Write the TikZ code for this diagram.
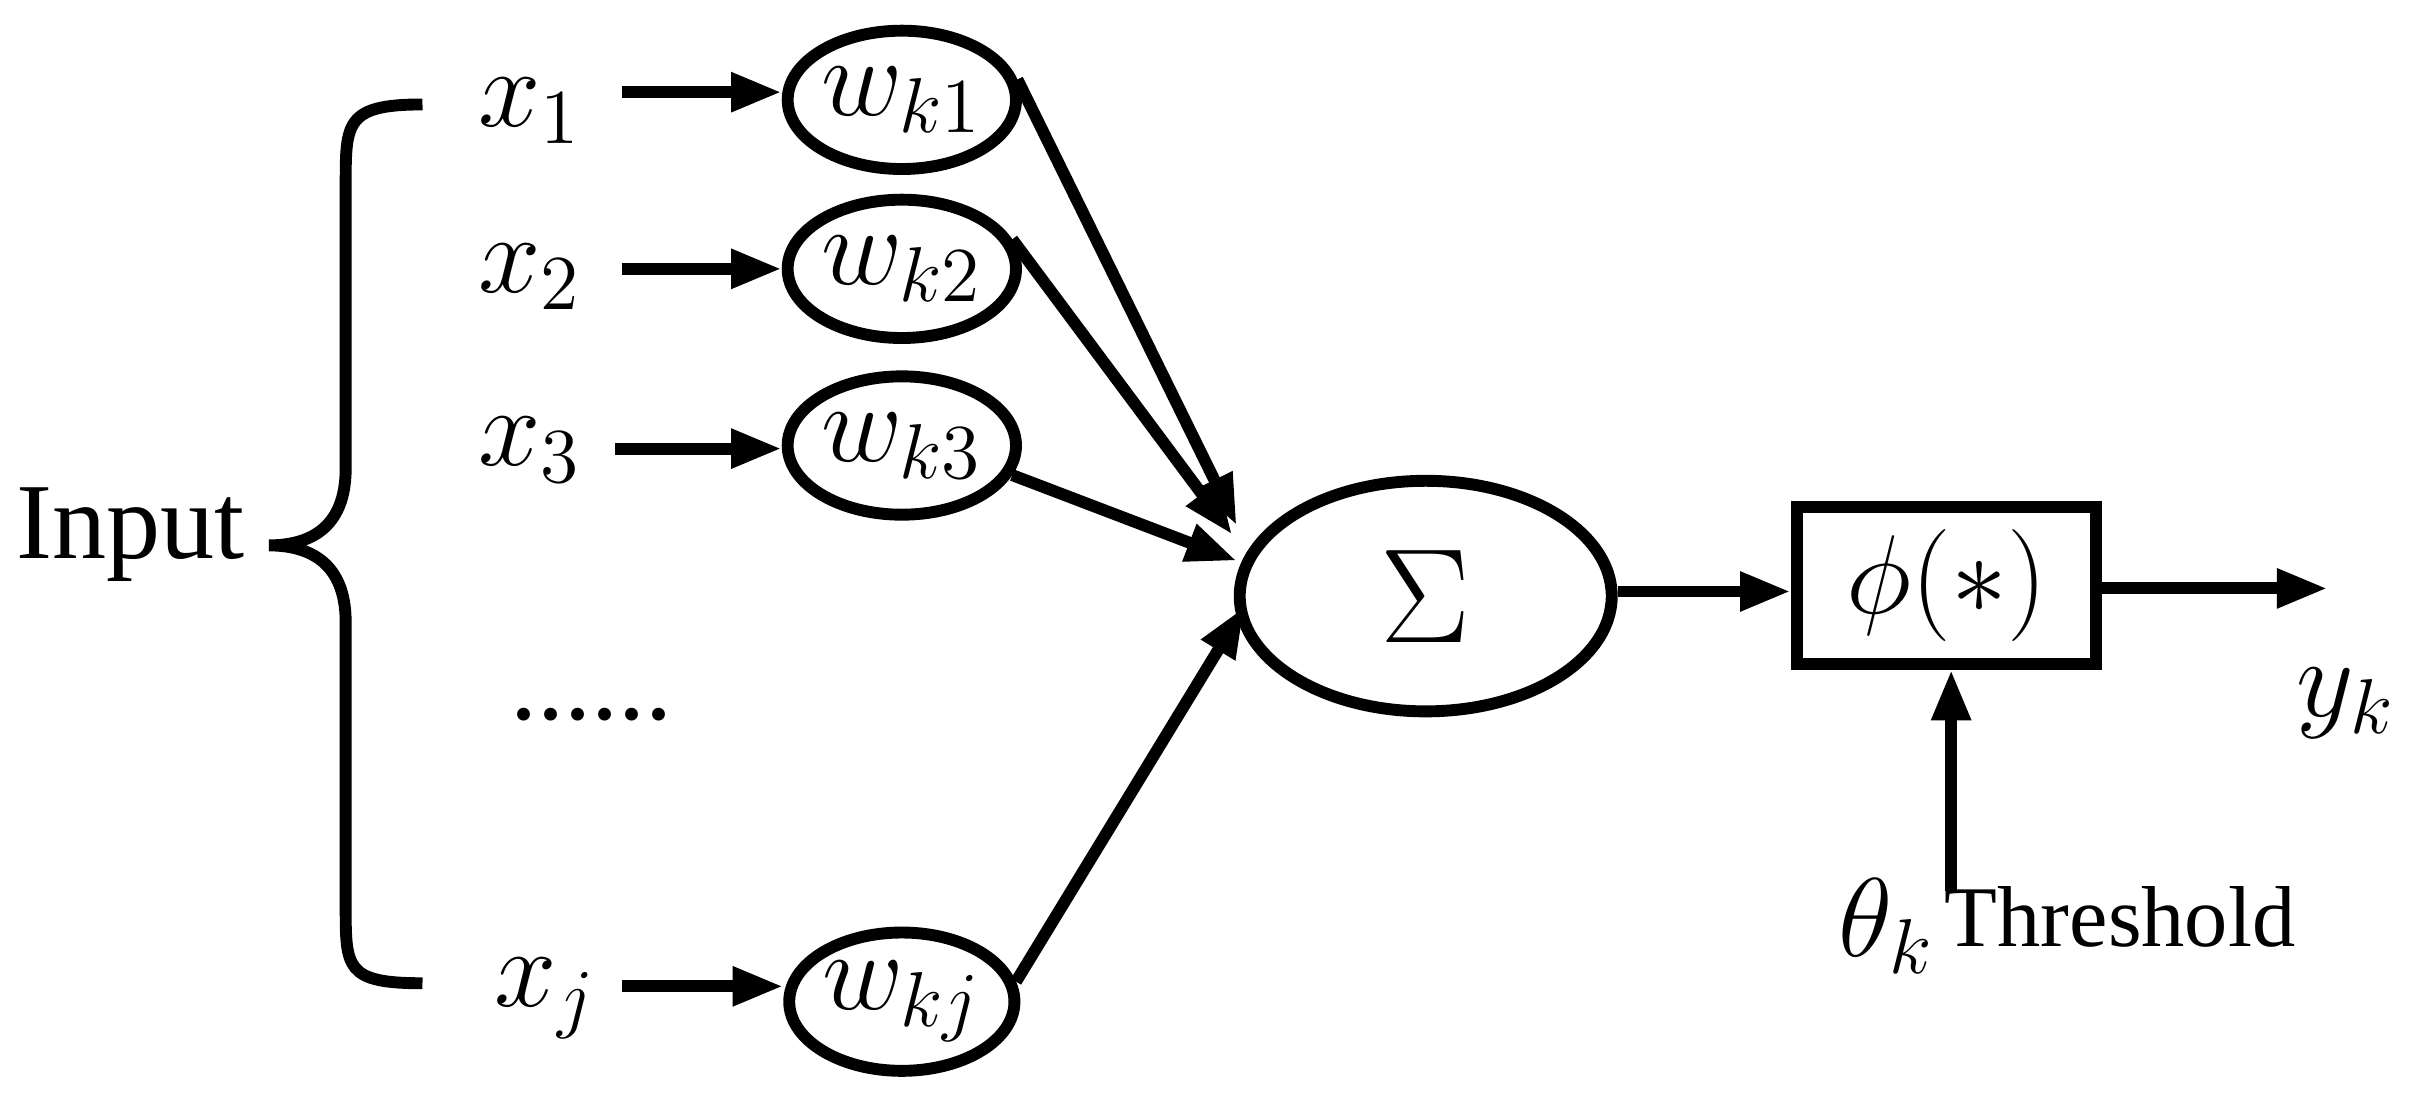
\documentclass[tikz,border=0pt]{standalone}
\usepackage{fontspec}
\setmainfont{Liberation Serif}
\usetikzlibrary{arrows.meta,shapes.geometric}
\begin{document}
\begin{tikzpicture}[x=0.01cm,y=-0.01cm,
  ln/.style={line width=2.2pt},
  ar/.style={ln,-{Triangle[length=0.33cm,width=0.24cm]}},
  el/.style={draw,ln,ellipse,minimum width=1.46cm,minimum height=0.9cm,inner sep=0pt},
  txt/.style={font=\fontsize{20}{24}\selectfont}]
\useasboundingbox (0,0) rectangle (1568,713);
\node[txt] (in) at (85,348) {Input};
\draw[ln] (275,68) .. controls (225,68) and (225,80) .. (225,120) -- (225,305) .. controls (225,345) and (200,355) .. (175,355)
 .. controls (200,355) and (225,365) .. (225,405) -- (225,590) .. controls (225,630) and (225,640) .. (275,640);
\node[txt] (x1) at (345,72) {$x_1$};
\node[txt] (x2) at (345,180) {$x_2$};
\node[txt] (x3) at (345,293) {$x_3$};
\node[txt] (dots) at (385,465) {......};
\node[txt] (xj) at (355,650) {$x_j$};
\node[el,txt] (w1) at (587,65) {$w_{k1}$};
\node[el,txt] (w2) at (587,175) {$w_{k2}$};
\node[el,txt] (w3) at (587,290) {$w_{k3}$};
\node[el,txt] (wj) at (587,652) {$w_{kj}$};
\coordinate (a1) at (405,60); \coordinate (a2) at (405,175);
\coordinate (a3) at (400,292); \coordinate (aj) at (405,642);
\draw[ar] (a1) -- (w1.west|-a1);
\draw[ar] (a2) -- (w2.west|-a2);
\draw[ar] (a3) -- (w3.west|-a3);
\draw[ar] (aj) -- (wj.west|-aj);
\node[draw,ln,ellipse,minimum width=2.42cm,minimum height=1.5cm,font=\fontsize{34}{40}\selectfont] (s) at (928,388) {$\Sigma$};
\coordinate (t1) at (805,342); \coordinate (t2) at (802,348);
\coordinate (t3) at (805,365); \coordinate (tj) at (810,395);
\draw[ar] (w1.10) -- (t1);
\draw[ar] (w2.15) -- (t2);
\draw[ar] (w3.-15) -- (t3);
\draw[ar] (wj.10) -- (tj);
\node[draw,ln,minimum width=1.95cm,minimum height=1.02cm,inner sep=0pt,txt] (phi) at (1267,381) {$\phi(*)$};
\draw[ar] (s.east|-0,385) -- (phi.west|-0,385);
\coordinate (o) at (1515,383);
\draw[ar] (phi.east|-o) -- (o);
\node[txt] (y) at (1527,458) {$y_k$};
\coordinate (th) at (1270,580);
\draw[ar] (th) -- (phi.south-|th);
\node[txt] (theta) at (1228,603) {$\theta_k$};
\node[font=\fontsize{16}{20}\selectfont] (thr) at (1380,597) {Threshold};
\end{tikzpicture}
\end{document}
